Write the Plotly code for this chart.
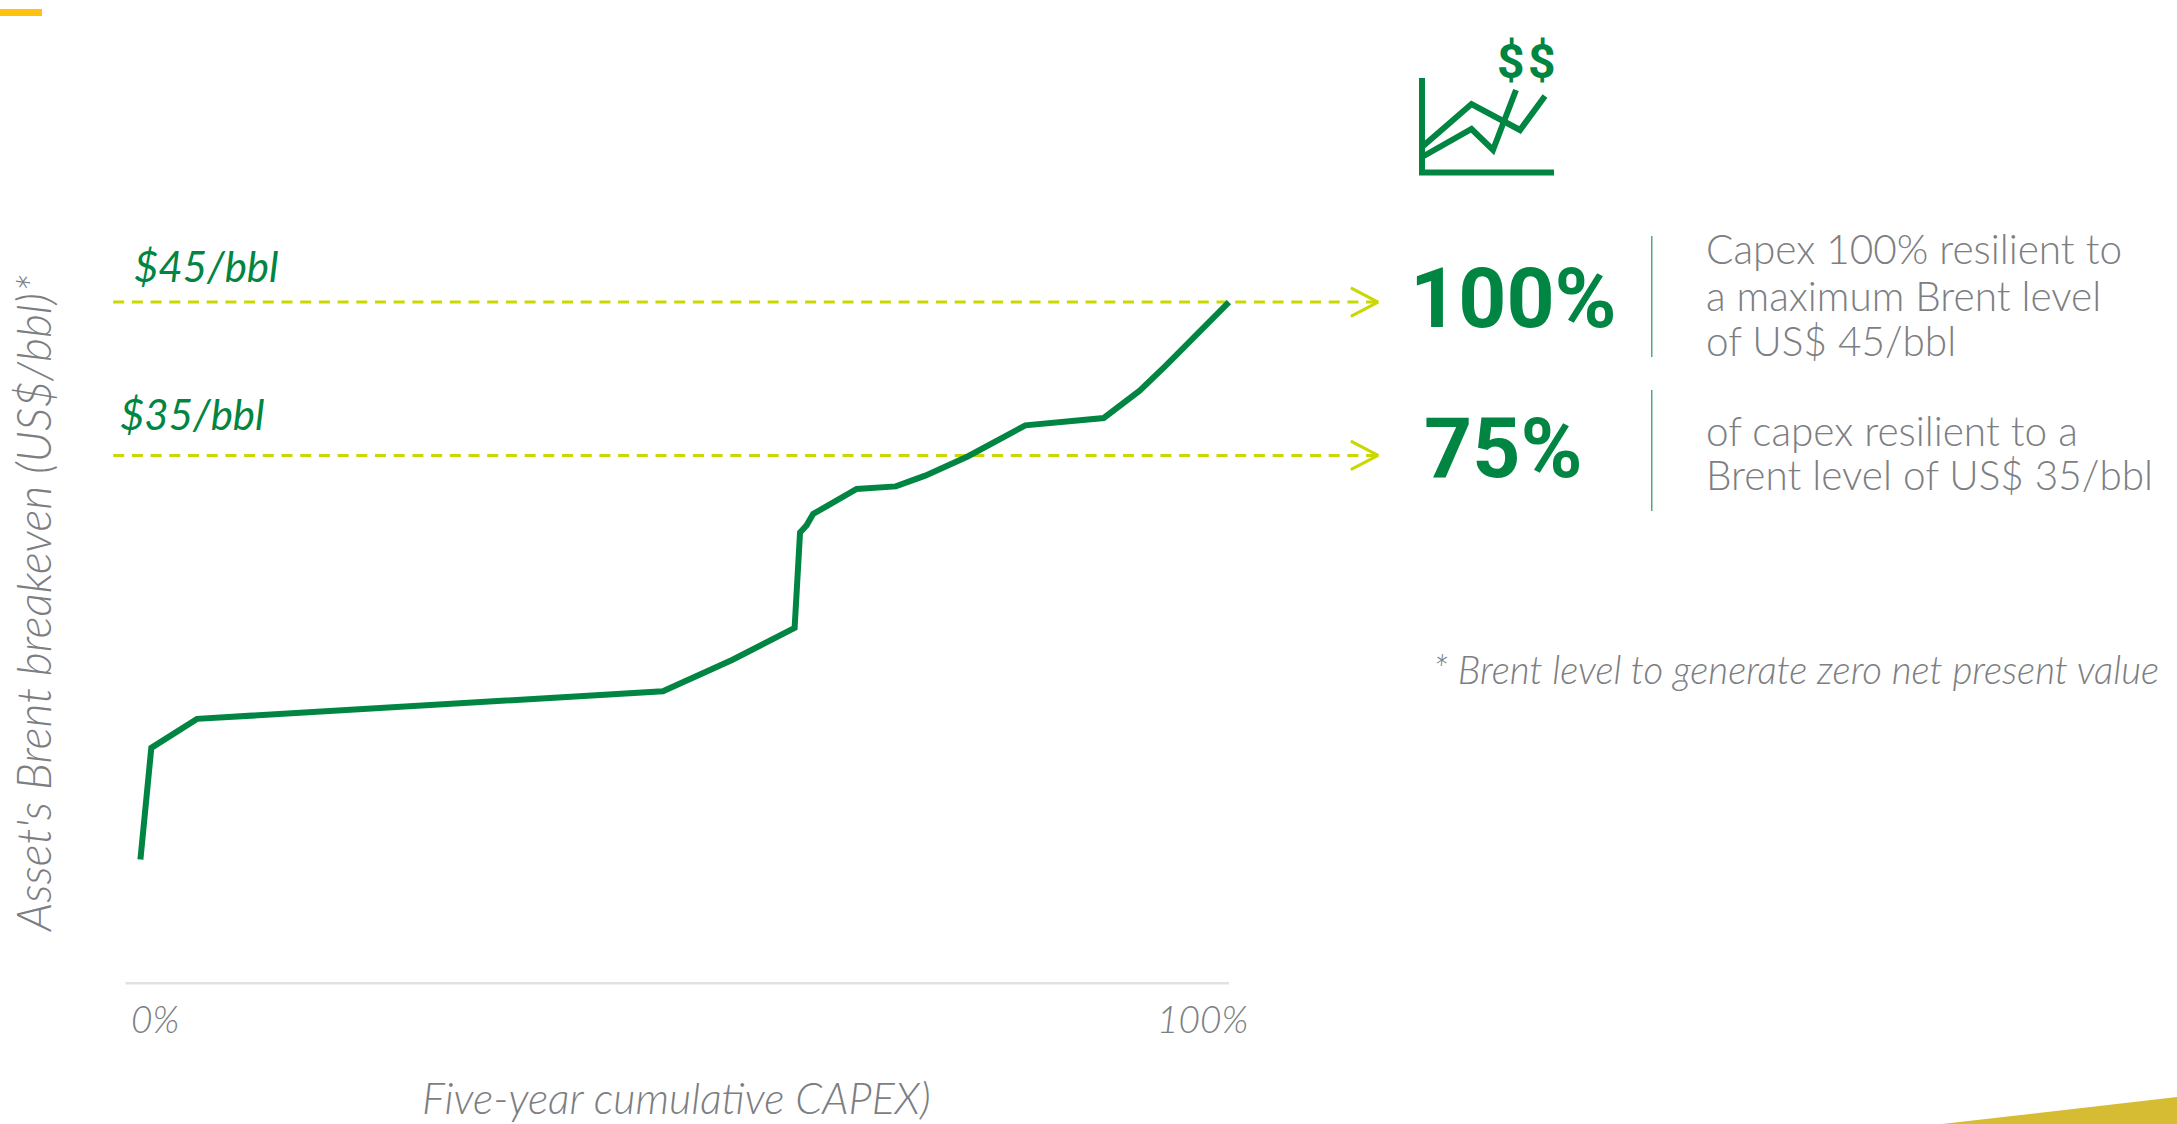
import plotly.graph_objects as go

W, H = 2177, 1124

# ---- data ----
capex_pct = [0, 1.0, 5.2, 48.0, 54.4, 60.1, 60.6, 61.2, 61.8, 65.8, 69.4, 72.1, 76.0, 81.3, 88.5, 91.8, 94.2, 100]
breakeven = [8.65, 15.93, 17.82, 19.62, 21.68, 23.75, 29.98, 30.44, 31.18, 32.81, 32.98, 33.68, 34.93, 36.96, 37.44, 39.22, 40.85, 45]
thresholds = [45, 35]
threshold_labels = ["$45/bbl", "$35/bbl"]
x_tick_labels = ["0%", "100%"]
y_title = "Asset's Brent breakeven (US$/bbl)*"
x_title = "Five-year cumulative CAPEX)"
big_numbers = ["100%", "75%"]
caption_100 = ["Capex 100% resilient to", "a maximum Brent level", "of US$ 45/bbl"]
caption_75 = ["of capex resilient to a", "Brent level of US$ 35/bbl"]
footnote = "* Brent level to generate zero net present value"

GREEN = "#008542"
LIME = "#C9D800"
GREY = "#7C7E82"
LIGHT = "Lato"
BOLD = "Roboto"

def px(x): return x / W
def py(y): return 1 - y / H

fig = go.Figure()

# dashed threshold lines with open arrow heads, in data units
for t in thresholds:
    fig.add_trace(go.Scatter(x=[-2.5, 113.6], y=[t, t], mode="lines", hoverinfo="skip", showlegend=False,
                             line=dict(color=LIME, width=3, dash="11px,7.7px")))
    fig.add_trace(go.Scatter(x=[111.2, 113.7, 111.2], y=[t + 0.93, t, t - 0.93], mode="lines", hoverinfo="skip",
                             showlegend=False, line=dict(color=LIME, width=3)))

fig.add_trace(go.Scatter(x=capex_pct, y=breakeven, mode="lines", showlegend=False,
                         line=dict(color=GREEN, width=6, shape="linear")))

shapes = []
def rect(x0, y0, x1, y1, color):
    shapes.append(dict(type="rect", xref="paper", yref="paper", x0=px(x0), x1=px(x1), y0=py(y0), y1=py(y1),
                       fillcolor=color, line_width=0, layer="below"))
def poly(points, color, width, fill=None):
    path = "M" + " L".join(f"{px(a):.5f},{py(b):.5f}" for a, b in points)
    if fill:
        path += " Z"
    shapes.append(dict(type="path", xref="paper", yref="paper", path=path,
                       line=dict(color=color, width=width), fillcolor=fill if fill else "rgba(0,0,0,0)"))

rect(0, 9, 42, 16, "#FFC20E")
poly([(1942, 1124), (2177, 1097), (2177, 1124)], "rgba(0,0,0,0)", 0, fill="#D6BC32")
rect(125.5, 982, 1229, 984.5, "#E1E1E1")
rect(1651, 236, 1652.5, 357, "#4FAA7C")
rect(1651, 390, 1652.5, 511, "#4FAA7C")

# icon
poly([(1422, 78), (1422, 172.5), (1554, 172.5)], GREEN, 6)
poly([(1422, 147), (1471.5, 104), (1520, 130), (1545, 96)], GREEN, 6)
poly([(1422, 157), (1471.5, 129), (1493, 150), (1516, 90)], GREEN, 6)

annotations = []
def text(s, x, y, size, color, anchor="left", family=LIGHT, weight=300, style="normal", angle=0, align="left"):
    annotations.append(dict(text=s, xref="paper", yref="paper", x=px(x), y=py(y), showarrow=False,
                            xanchor=anchor, yanchor="middle", align=align, textangle=angle, borderpad=0,
                            font=dict(family=family, size=size, color=color, weight=weight, style=style)))

text("$", 1511, 62, 48, GREEN, anchor="center", family=BOLD, weight=700)
text("$", 1542, 62, 48, GREEN, anchor="center", family=BOLD, weight=700)
text(threshold_labels[0], 133, 266, 42, GREEN, weight=400, style="italic")
text(threshold_labels[1], 119, 414, 42, GREEN, weight=400, style="italic")
text(y_title, 33, 604, 46.5, GREY, anchor="center", style="italic", angle=-90)
text(x_tick_labels[0], 130, 1018, 37, GREY, style="italic")
text(x_tick_labels[1], 1249, 1018, 37, GREY, anchor="right", style="italic")
text(x_title, 421, 1097, 43, GREY, style="italic")
text(big_numbers[0], 1409, 298, 84, GREEN, family=BOLD, weight=700)
text(big_numbers[1], 1423, 449, 84, GREEN, family=BOLD, weight=700)
for line, y in zip(caption_100, [249, 295, 341]):
    text(line, 1705, y, 40.5, GREY)
for line, y in zip(caption_75, [430, 475]):
    text(line, 1705, y, 40.5, GREY)
text(footnote, 1432, 669, 38.5, GREY, style="italic")

# plot area fills the page; axes placed so 0-100% and $35/$45 land on the reference positions
fig.update_layout(
    width=W, height=H, margin=dict(l=0, r=0, t=0, b=0), paper_bgcolor="white", plot_bgcolor="white",
    showlegend=False, shapes=shapes, annotations=annotations,
    xaxis=dict(range=[-12.9, 187.1], visible=False, fixedrange=True),
    yaxis=dict(range=[-8.6, 64.7], visible=False, fixedrange=True),
)
fig.write_html("out.html", config={"displayModeBar": False},
               post_script="document.body.style.margin='0';document.documentElement.style.overflow='hidden';")
